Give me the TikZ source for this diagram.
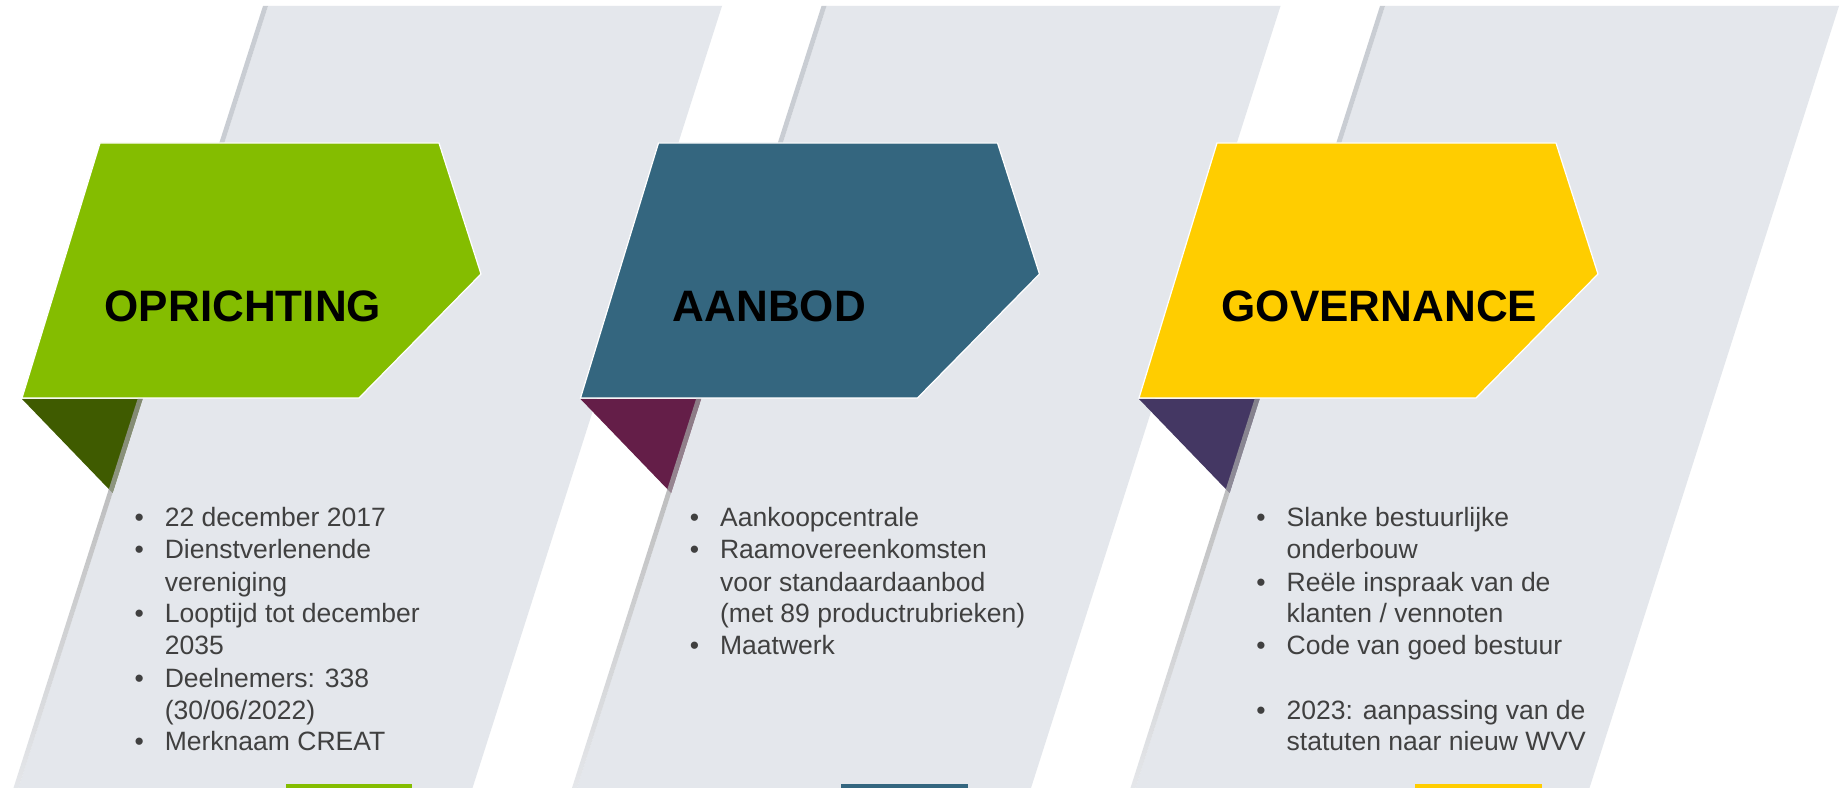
\documentclass[tikz,border=0pt]{standalone}
\usepackage{fontspec}
\setmainfont{Liberation Sans}
\definecolor{band}{HTML}{E4E7EC}
\definecolor{bandshadow}{HTML}{C9CDD3}
\definecolor{cgreen}{HTML}{84BD00}
\definecolor{cgreendark}{HTML}{3F5B00}
\definecolor{cblue}{HTML}{34667F}
\definecolor{cmaroon}{HTML}{641E48}
\definecolor{cyellow}{HTML}{FFCD00}
\definecolor{cpurple}{HTML}{443763}
\definecolor{bodytext}{HTML}{404040}
\newlength{\pxunit}\setlength{\pxunit}{0.01cm}
\newcommand{\bul}{\llap{\makebox[30.3\pxunit][l]{\textbullet}}}
\begin{document}
\begin{tikzpicture}[x=0.01cm,y=-0.01cm,
  title/.style={anchor=base west,inner sep=0pt,font=\fontsize{12.52}{15}\selectfont\bfseries,text=black},
  item/.style={anchor=base west,inner sep=0pt,font=\fontsize{7.54}{9}\selectfont,text=bodytext},
  panel/.style={draw=white,line width=0.35pt,line join=miter},
]
\useasboundingbox (0,0) rectangle (1847,788);
\fill[white] (0,0) rectangle (1847,788);
\foreach \dx/\main/\dark/\sa/\sb in {0/cgreen/cgreendark/286/412, 558.5/cblue/cmaroon/282.5/409.5, 1117/cyellow/cpurple/298/425} {
 \begin{scope}[shift={(\dx,0)}]
  \fill[band] (268,6) -- (722,6) -- (472.5,788) -- (18.5,788) -- cycle;
  \fill[bandshadow] (263,6) -- (268,6) -- (142.6,399) -- (137.6,399) -- cycle;
  \fill[\dark] (22,399) -- (142.6,399) -- (112.6,493) -- cycle;
  \shade[top color=gray!80, bottom color=band!92!gray, fill opacity=0.75]
    (137.6,399) -- (142.6,399) -- (18.5,788) -- (13.5,788) -- cycle;
  \filldraw[fill=\main, panel] (100,143) -- (439,143) -- (481,274) -- (359,398) -- (22,398) -- cycle;
  \fill[\main] (\sa,784) rectangle (\sb,788);
 \end{scope}
}
% titles
\node[title] (t1) at (104,322) {OPRICHTING};
\node[title] (t2) at (672,322) {AANBOD};
\node[title] (t3) at (1221,322) {GOVERNANCE};
% column 1
\node[item] (a1) at (164.1,527) {\bul 22 december 2017};
\node[item] (a2) at (164.1,559) {\bul Dienstverlenende};
\node[item] (a3) at (164.1,591) {vereniging};
\node[item] (a4) at (164.1,623) {\bul Looptijd tot december};
\node[item] (a5) at (164.1,655) {2035};
\node[item] (a6) at (164.1,687) {\bul Deelnemers: 338};
\node[item] (a7) at (164.1,719) {(30/06/2022)};
\node[item] (a8) at (164.1,751) {\bul Merknaam CREAT};
% column 2
\node[item] (b1) at (719.4,527) {\bul Aankoopcentrale};
\node[item] (b2) at (719.4,559) {\bul Raamovereenkomsten};
\node[item] (b3) at (719.4,591) {voor standaardaanbod};
\node[item] (b4) at (719.4,623) {(met 89 productrubrieken)};
\node[item] (b5) at (719.4,655) {\bul Maatwerk};
% column 3
\node[item] (c1) at (1286,527) {\bul Slanke bestuurlijke};
\node[item] (c2) at (1286,559) {onderbouw};
\node[item] (c3) at (1286,591) {\bul Reële inspraak van de};
\node[item] (c4) at (1286,623) {klanten / vennoten};
\node[item] (c5) at (1286,655) {\bul Code van goed bestuur};
\node[item] (c6) at (1286,719) {\bul 2023: aanpassing van de};
\node[item] (c7) at (1286,751) {statuten naar nieuw WVV};
\end{tikzpicture}
\end{document}
